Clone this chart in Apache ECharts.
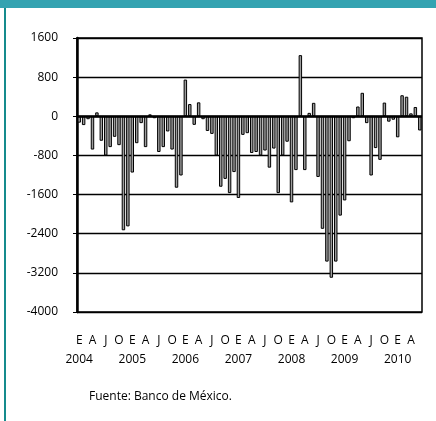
<!DOCTYPE html>
<html>
<head>
<meta charset="utf-8">
<script src="https://cdn.jsdelivr.net/npm/echarts@6/dist/echarts.min.js"></script>
<style>
html,body{margin:0;padding:0;background:#fff;}
#chart{width:436px;height:421px;}
</style>
</head>
<body>
<div id="chart"></div>
<script>
// Monthly values, Jan 2004 - Jun 2010
const years = [2004, 2005, 2006, 2007, 2008, 2009, 2010];
const monthLetters = ['E','F','M','A','M','J','J','A','S','O','N','D'];
const values = [
  // 2004
  -130, -180, -60, -680, 80, -500, -800, -630, -420, -590, -2330, -2250,
  // 2005
  -1150, -550, -140, -630, 40, -40, -730, -630, -310, -680, -1460, -1210,
  // 2006
  750, 250, -175, 285, -60, -300, -360, -800, -1440, -1280, -1570, -1140,
  // 2007
  -1670, -380, -345, -750, -730, -800, -700, -1050, -660, -1570, -800, -520,
  // 2008
  -1760, -1100, 1250, -1100, 70, 275, -1240, -2300, -2970, -3300, -2970, -2030,
  // 2009
  -1720, -510, -40, 200, 480, -140, -1210, -650, -890, 280, -110, -70,
  // 2010
  -430, 430, 400, 60, 190, -290
];
const yTicks = {min: -4000, max: 1600, interval: 800};
const sourceText = 'Fuente: Banco de México.';

const categories = values.map((v, i) => years[Math.floor(i / 12)] + '-' + (i % 12 + 1));

const chart = echarts.init(document.getElementById('chart'), null, {renderer: 'canvas'});
chart.setOption({
  animation: false,
  backgroundColor: '#ffffff',
  grid: {left: 77, right: 14, top: 38, bottom: 109, show: true, borderColor: '#000', borderWidth: 1.5, backgroundColor: 'transparent'},
  xAxis: {
    type: 'category',
    data: categories,
    axisLine: {show: false, onZero: false},
    axisTick: {show: false},
    axisLabel: {
      interval: 0,
      margin: 19,
      fontFamily: 'Open Sans',
      fontSize: 12,
      color: '#000',
      lineHeight: 19,
      formatter: function (val, idx) {
        if (idx % 3 !== 0) return '';
        const m = idx % 12;
        let s = monthLetters[m];
        if (m === 0) s += '\n' + years[Math.floor(idx / 12)];
        return s;
      }
    },
    splitLine: {show: false}
  },
  yAxis: {
    type: 'value',
    min: yTicks.min,
    max: yTicks.max,
    interval: yTicks.interval,
    axisLine: {show: true, lineStyle: {color: '#000', width: 2.5}},
    axisTick: {show: true, length: 4, lineStyle: {color: '#000', width: 1}},
    axisLabel: {fontFamily: 'Open Sans', fontSize: 12, color: '#000', margin: 19,
      formatter: function (v) { return String(v); }},
    splitLine: {show: true, lineStyle: {color: '#000', width: 1.3}}
  },
  series: [{
    type: 'bar',
    data: values,
    barCategoryGap: '22%',
    itemStyle: {color: '#9c9c9c', borderColor: '#000', borderWidth: 1},
    markLine: {
      silent: true,
      symbol: 'none',
      label: {show: false},
      lineStyle: {color: '#000', width: 2.5, type: 'solid'},
      data: [{yAxis: 0}]
    }
  }],
  graphic: [
    {type: 'rect', left: 0, top: 0, shape: {x: 0, y: 0, width: 436, height: 8}, style: {fill: '#34a3b1'}},
    {type: 'rect', left: 4, top: 8, shape: {x: 0, y: 0, width: 2, height: 413}, style: {fill: '#158b8d'}},
    {type: 'text', left: 89, top: 391, style: {text: sourceText, fontFamily: 'Open Sans', fontSize: 12, fill: '#000'}}
  ]
});
</script>
</body>
</html>
